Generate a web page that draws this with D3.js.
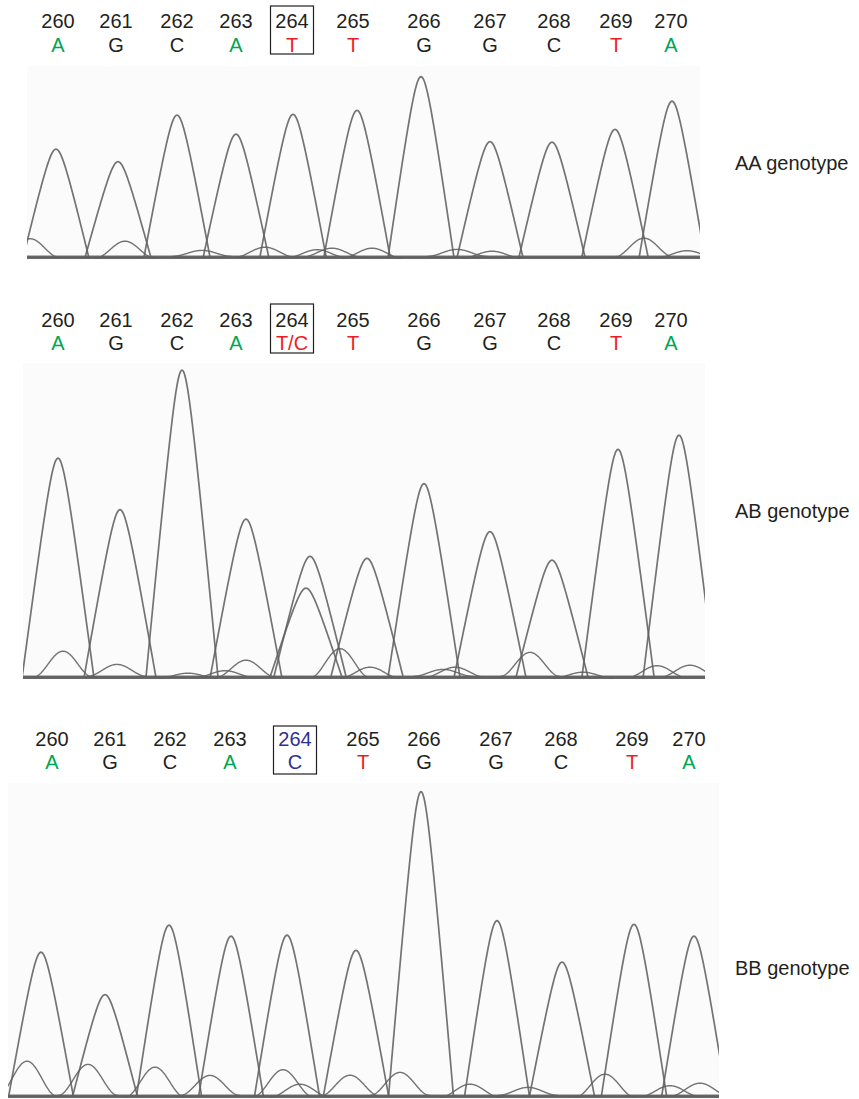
<!DOCTYPE html>
<html><head><meta charset="utf-8">
<script src="https://cdn.jsdelivr.net/npm/d3@7"></script>
<style>
html,body{margin:0;padding:0;background:#fff;}
svg{display:block;font-family:"Liberation Sans",Arial,Helvetica,sans-serif;}
</style></head>
<body>
<svg id="chart" width="859" height="1099"></svg>
<script>
// ---------------- DATA ----------------
const positions = ["260","261","262","263","264","265","266","267","268","269","270"];
const genotypes = ["AA genotype","AB genotype","BB genotype"];

// base calls per panel
const callsAA = ["A","G","C","A","T","T","G","G","C","T","A"];
const callsAB = ["A","G","C","A","T/C","T","G","G","C","T","A"];
const callsBB = ["A","G","C","A","C","T","G","G","C","T","A"];

// base-call scan positions (where the call label sits)
const callScanAA = [31, 89, 150, 209, 265, 326, 397, 463, 527, 589, 644];
const callScanAB = [35, 93, 154, 213, 269, 330, 401, 467, 531, 593, 648];
const callScanBB = [44, 102, 162, 222, 287, 355, 416, 488, 553, 624, 681];

// major peaks: base, scan, signal
const peakBaseAA = ["A","G","C","A","T","T","G","G","C","T","A"];
const peakScanAA = [29, 91, 150, 209, 266, 330, 394, 463, 525, 588, 645];
const peakHtAA   = [109, 96, 142, 124, 142, 146, 181, 116, 115, 127, 157];

const peakBaseAB = ["A","G","C","A","T","C","T","G","G","C","T","A"];
const peakScanAB = [35, 97, 159, 223, 287, 283, 344, 401, 467, 529, 595, 656];
const peakHtAB   = [220, 168, 307, 159, 120, 89, 118, 194, 146, 117, 227, 243];

const peakBaseBB = ["A","G","C","A","C","T","G","G","C","T","A"];
const peakScanBB = [33, 97, 161, 223, 279, 348, 413, 489, 554, 626, 686];
const peakHtBB   = [145, 102, 171, 161, 161, 145, 305, 176, 134, 171, 161];

// minor (background) peaks: base, scan, signal
const minorBaseAA = ["G","A","T","C","G","C","A","T","A","C","G"];
const minorScanAA = [3, 98, 175, 238, 290, 305, 345, 430, 465, 617, 660];
const minorHtAA   = [19, 17, 6, 10, 8, 9, 10, 7, 7, 19, 7];

const minorBaseAB = ["C","T","A","G","C","G","A","T","C","T","A","G","C"];
const minorScanAB = [40, 94, 165, 202, 223, 317, 347, 420, 432, 507, 560, 634, 667];
const minorHtAB   = [26, 12, 5, 7, 17, 29, 11, 7, 10, 24, 6, 12, 12];

const minorBaseBB = ["C","T","A","T","G","A","C","T","A","T","A","G","C"];
const minorScanBB = [19, 80, 147, 202, 275, 292, 342, 392, 462, 520, 597, 662, 692];
const minorHtBB   = [35, 31, 30, 20, 27, 13, 21, 23, 13, 8, 23, 11, 13];

const scanMax = [673, 682, 711];
const signalMax = [191, 314, 313];
const bases = ["A","C","G","T"];

// ---------------- LAYOUT / STYLE ----------------
const peakHalfWidth = [33, 36, 32.5];
const tipRound = 8;
const minorHalfWidth = 30;

const panels = [
  {calls: callsAA, callScan: callScanAA, pb: peakBaseAA, ps: peakScanAA, ph: peakHtAA,
   mb: minorBaseAA, ms: minorScanAA, mh: minorHtAA,
   left: 27, right: 700, top: 68, base: 259, numY: 28, letY: 52, boxTop: 6, boxBot: 54, labelY: 170, hiBlue:false},
  {calls: callsAB, callScan: callScanAB, pb: peakBaseAB, ps: peakScanAB, ph: peakHtAB,
   mb: minorBaseAB, ms: minorScanAB, mh: minorHtAB,
   left: 23, right: 705, top: 365, base: 679, numY: 327, letY: 350, boxTop: 304, boxBot: 353, labelY: 518, hiBlue:false},
  {calls: callsBB, callScan: callScanBB, pb: peakBaseBB, ps: peakScanBB, ph: peakHtBB,
   mb: minorBaseBB, ms: minorScanBB, mh: minorHtBB,
   left: 8, right: 719, top: 785, base: 1098, numY: 746, letY: 769, boxTop: 726, boxBot: 774, labelY: 975, hiBlue:true}
];

const baseColor = {A:"#00a651", T:"#ed1c24", "T/C":"#ed1c24", G:"#231f20", C:"#231f20"};
const blue = "#2e3192";
const traceOffset = {A:0.8, C:1.8, G:1.3, T:2.6};

// peak shape: straight flanks with a rounded tip, zero at half-width
function peakShape(d, w) {
  const wp = Math.sqrt(w * w + tipRound * tipRound);
  return Math.max(0, (wp - Math.sqrt(d * d + tipRound * tipRound)) / (wp - tipRound));
}
function humpShape(d, w) {
  return Math.abs(d) >= w ? 0 : 0.5 * (1 + Math.cos(Math.PI * d / w));
}

const svg = d3.select("#chart");
const lineStyle = sel => sel.attr("fill", "none")
  .attr("stroke", "#606060").attr("stroke-opacity", 0.88)
  .attr("stroke-width", 1.7).attr("stroke-linejoin", "round");

panels.forEach((p, i) => {
  const x = d3.scaleLinear().domain([0, scanMax[i]]).range([p.left, p.right]);
  const y = d3.scaleLinear().domain([0, signalMax[i]]).range([p.base, p.top]);
  const g = svg.append("g");
  const clipId = "clip" + i;
  g.append("clipPath").attr("id", clipId).append("rect")
    .attr("x", x(0)).attr("y", y(signalMax[i]) - 5)
    .attr("width", x(scanMax[i]) - x(0)).attr("height", y(0) - y(signalMax[i]) + 8);

  g.append("rect")
    .attr("x", x(0)).attr("y", y(signalMax[i]) - 2)
    .attr("width", x(scanMax[i]) - x(0)).attr("height", y(0) - y(signalMax[i]) + 3)
    .attr("fill", "#fbfbfb");

  const plot = g.append("g").attr("clip-path", `url(#${clipId})`);
  const line = d3.line().x(d => x(d[0])).y(d => y(d[1]));
  const w = peakHalfWidth[i];

  // baselines of the four dye traces
  bases.forEach(b => {
    plot.append("path").call(lineStyle)
      .attr("d", line([[0, traceOffset[b]], [scanMax[i], traceOffset[b]]]));
  });

  // major peaks
  p.ps.forEach((c, k) => {
    const pts = d3.range(c - w, c + w + 0.25, 0.5)
      .map(s => [s, traceOffset[p.pb[k]] + p.ph[k] * peakShape(s - c, w)]);
    plot.append("path").call(lineStyle).attr("d", line(pts));
  });

  // minor background humps
  p.ms.forEach((c, k) => {
    const pts = d3.range(c - minorHalfWidth, c + minorHalfWidth + 0.25, 0.5)
      .map(s => [s, traceOffset[p.mb[k]] + p.mh[k] * humpShape(s - c, minorHalfWidth)]);
    plot.append("path").call(lineStyle).attr("stroke-width", 1.4).attr("d", line(pts));
  });

  positions.forEach((pos, k) => {
    const cx = x(p.callScan[k]);
    const hi = pos === "264";
    g.append("text").attr("x", cx).attr("y", p.numY)
      .attr("text-anchor", "middle").attr("font-size", 20)
      .attr("fill", (hi && p.hiBlue) ? blue : "#231f20").text(pos);
    g.append("text").attr("x", cx).attr("y", p.letY)
      .attr("text-anchor", "middle").attr("font-size", 20)
      .attr("fill", (hi && p.hiBlue) ? blue : baseColor[p.calls[k]]).text(p.calls[k]);
    if (hi) {
      g.append("rect").attr("x", cx - 21.5).attr("y", p.boxTop)
        .attr("width", 43).attr("height", p.boxBot - p.boxTop)
        .attr("fill", "none").attr("stroke", "#231f20").attr("stroke-width", 1.2);
    }
  });

  g.append("text").attr("x", 735).attr("y", p.labelY)
    .attr("font-size", 20).attr("fill", "#231f20").text(genotypes[i]);
});
</script>
</body></html>
